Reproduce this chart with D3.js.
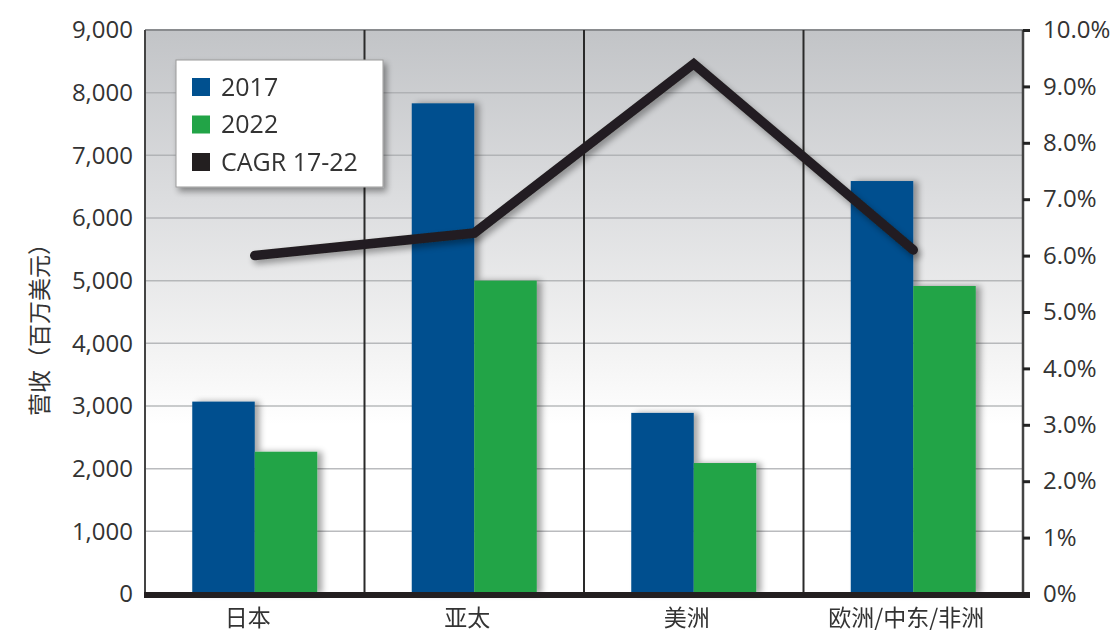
<!DOCTYPE html>
<html><head><meta charset="utf-8">
<script src="https://cdn.jsdelivr.net/npm/d3@7"></script>
<style>
html,body{margin:0;padding:0;background:#fff;}
svg{display:block;font-family:"Open Sans","Noto Sans","Noto Sans CJK SC",sans-serif;}
</style></head>
<body><svg id="c" width="1115" height="634"></svg>
<script>
// ---- data ----
const categories = ["日本", "亚太", "美洲", "欧洲/中东/非洲"];
const seriesNames = ["2017", "2022", "CAGR 17-22"];
const revenue2017 = [3070, 7830, 2890, 6590];
const revenue2022 = [2270, 5000, 2090, 4915];
const cagr = [6.0, 6.4, 9.4, 6.1];
const leftTicks = [0, 1000, 2000, 3000, 4000, 5000, 6000, 7000, 8000, 9000];
const rightTicks = [0, 1, 2, 3, 4, 5, 6, 7, 8, 9, 10];
const rightTickLabels = ["0%", "1%", "2.0%", "3.0%", "4.0%", "5.0%", "6.0%", "7.0%", "8.0%", "9.0%", "10.0%"];
const yTitle = "营收（百万美元）";

// ---- layout ----
const L = 145, R = 1023, T = 30, B = 594;
const colors = {"2017": "#00508f", "2022": "#22a447", "CAGR 17-22": "#231f20"};

const svg = d3.select("#c");
const defs = svg.append("defs");
const grad = defs.append("linearGradient").attr("id", "bg").attr("x1", 0).attr("y1", 0).attr("x2", 0).attr("y2", 1);
grad.append("stop").attr("offset", "0%").attr("stop-color", "#c2c4c7");
grad.append("stop").attr("offset", "30%").attr("stop-color", "#dcdddf");
grad.append("stop").attr("offset", "58%").attr("stop-color", "#f4f4f4");
grad.append("stop").attr("offset", "70%").attr("stop-color", "#ffffff");
grad.append("stop").attr("offset", "100%").attr("stop-color", "#ffffff");

function shadow(id, dx, dy, blur, op) {
  const f = defs.append("filter").attr("id", id).attr("x", "-20%").attr("y", "-20%").attr("width", "150%").attr("height", "150%");
  f.append("feGaussianBlur").attr("in", "SourceAlpha").attr("stdDeviation", blur).attr("result", "b");
  f.append("feOffset").attr("in", "b").attr("dx", dx).attr("dy", dy).attr("result", "o");
  f.append("feComponentTransfer").attr("in", "o").attr("result", "s")
    .append("feFuncA").attr("type", "linear").attr("slope", op);
  const m = f.append("feMerge");
  m.append("feMergeNode").attr("in", "s");
  m.append("feMergeNode").attr("in", "SourceGraphic");
}
shadow("barShadow", 5, 0, 3, 0.35);
shadow("lineShadow", 3, 4, 3, 0.35);
shadow("legShadow", 3, 4, 3, 0.4);

const x = d3.scaleBand().domain(categories).range([L, R]).paddingInner(0).paddingOuter(0);
const x1 = d3.scaleBand().domain(["2017", "2022"]).range([0, x.bandwidth()]).paddingInner(0).paddingOuter(0.756);
const y = d3.scaleLinear().domain([0, 9000]).range([B, T]);
const y2 = d3.scaleLinear().domain([0, 10]).range([B, T]);

// background
svg.append("rect").attr("x", L).attr("y", T).attr("width", R - L).attr("height", B - T).attr("fill", "url(#bg)");

// gridlines
svg.append("g").selectAll("line").data(leftTicks.filter(d => d > 0 && d < 9000)).join("line")
  .attr("x1", L).attr("x2", R).attr("y1", d => y(d)).attr("y2", d => y(d))
  .attr("stroke", "#a9abae").attr("stroke-width", 1.5).attr("opacity", 0.8);

// top border
svg.append("line").attr("x1", L).attr("x2", R).attr("y1", T).attr("y2", T).attr("stroke", "#8a8c8f").attr("stroke-width", 2);

// category separators
svg.append("g").selectAll("line").data(categories.slice(1)).join("line")
  .attr("x1", d => x(d)).attr("x2", d => x(d)).attr("y1", T).attr("y2", B)
  .attr("stroke", "#2a2a2a").attr("stroke-width", 2);

// bars
const rows = categories.map((c, i) => ({c, vals: [{k: "2017", v: revenue2017[i]}, {k: "2022", v: revenue2022[i]}]}));
const gb = svg.append("g").attr("filter", "url(#barShadow)");
gb.selectAll("g").data(rows).join("g").attr("transform", d => `translate(${x(d.c)},0)`)
  .selectAll("rect").data(d => d.vals).join("rect")
  .attr("x", d => x1(d.k)).attr("width", x1.bandwidth())
  .attr("y", d => y(d.v)).attr("height", d => B - y(d.v))
  .attr("fill", d => colors[d.k]);

// left axis line
svg.append("line").attr("x1", L).attr("x2", L).attr("y1", T).attr("y2", B).attr("stroke", "#444").attr("stroke-width", 2);

// CAGR line
const line = d3.line().x((d, i) => x(categories[i]) + x.bandwidth() / 2).y(d => y2(d));
svg.append("path").datum(cagr).attr("d", line).attr("fill", "none")
  .attr("stroke", colors["CAGR 17-22"]).attr("stroke-width", 9.5).attr("stroke-linejoin", "miter")
  .attr("stroke-linecap", "round")
  .attr("filter", "url(#lineShadow)");

// left axis
const ax = svg.append("g").attr("transform", `translate(${L},0)`)
  .call(d3.axisLeft(y).tickValues(leftTicks).tickFormat(d3.format(",")).tickSize(0).tickPadding(12));
ax.select(".domain").remove();
ax.selectAll("text").attr("font-size", 24).attr("fill", "#333").attr("font-family", "Open Sans");

// right axis
const ar = svg.append("g").attr("transform", `translate(${R},0)`)
  .call(d3.axisRight(y2).tickValues(rightTicks).tickFormat((d, i) => rightTickLabels[i]).tickSize(7).tickPadding(13));
ar.select(".domain").attr("stroke", "#444").attr("stroke-width", 2.5).attr("d", `M0,${T}V${B}`);
ar.selectAll(".tick line").attr("stroke", "#222").attr("stroke-width", 3);
ar.selectAll("text").attr("font-size", 24).attr("fill", "#333").attr("font-family", "Open Sans");

// bottom axis (thick baseline)
const ab = svg.append("g").attr("transform", `translate(0,${B})`)
  .call(d3.axisBottom(x).tickSize(0).tickPadding(16));
ab.select(".domain").remove();
svg.append("line").attr("x1", L - 1).attr("x2", R + 7).attr("y1", B + 1).attr("y2", B + 1).attr("stroke", "#231f20").attr("stroke-width", 6);
ab.selectAll("text").attr("font-size", 23).attr("fill", "#333").attr("dx", -7)
  .attr("font-family", "Noto Sans CJK SC");

// y title
svg.append("text").attr("transform", `translate(48,${(T + B) / 2 + 12}) rotate(-90)`)
  .attr("text-anchor", "middle").attr("font-size", 23).attr("fill", "#333")
  .attr("font-family", "Noto Sans CJK SC").text(yTitle);

// legend
const lg = svg.append("g").attr("transform", "translate(176,60)");
lg.append("rect").attr("width", 207).attr("height", 127).attr("fill", "#fff")
  .attr("stroke", "#9a9a9a").attr("stroke-width", 1).attr("filter", "url(#legShadow)");
const li = lg.selectAll("g.it").data(seriesNames).join("g").attr("class", "it")
  .attr("transform", (d, i) => `translate(16,${27 + i * 37.5})`);
li.append("rect").attr("y", -9).attr("width", 18).attr("height", 18).attr("fill", d => colors[d]);
li.append("text").attr("x", 29).attr("dy", "0.35em").attr("font-size", 25).attr("fill", "#333")
  .attr("font-family", "Open Sans").text(d => d);
</script></body></html>
